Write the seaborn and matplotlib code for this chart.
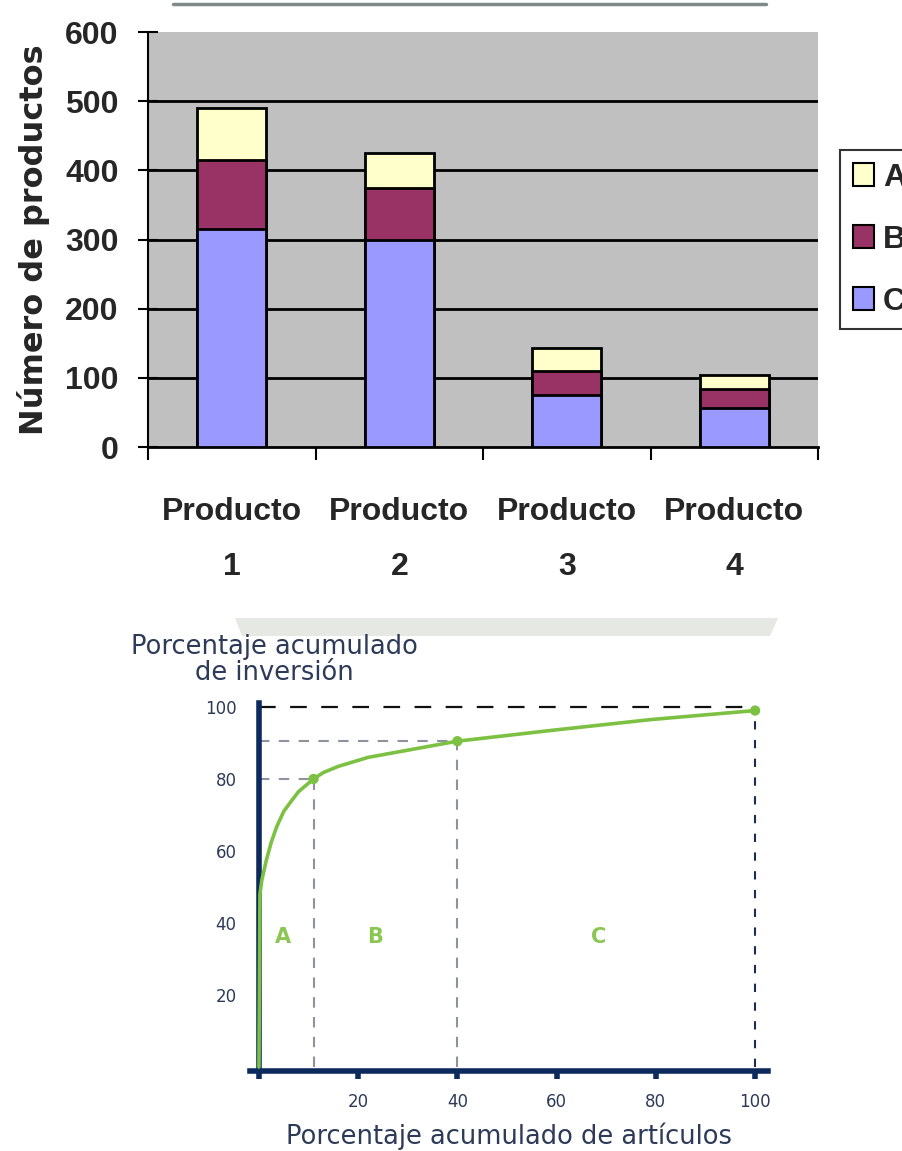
import numpy as np
import pandas as pd
import matplotlib
matplotlib.use("Agg")
import matplotlib.pyplot as plt
from matplotlib.patches import Patch, Polygon
from matplotlib.lines import Line2D
from matplotlib.font_manager import FontProperties
import seaborn as sns

# ---- data: stacked bars (número de productos por clase) ----
productos = ["Producto\n1", "Producto\n2", "Producto\n3", "Producto\n4"]
clase_c = [315, 300, 75, 57]
clase_b = [100, 75, 35, 27]
clase_a = [75, 50, 33, 20]
clases = ["A", "B", "C"]
y_ticks_bar = [0, 100, 200, 300, 400, 500, 600]

# ---- data: curva ABC (porcentaje acumulado) ----
art_pct = [0, 0.2, 0.6, 1.5, 2.5, 3.6, 5, 6.6, 8, 11, 13, 16, 22, 30, 40, 59, 79, 100]
inv_pct = [0, 48, 52, 57.5, 62.5, 66.8, 71, 74, 76.5, 80, 81.8, 83.5, 86, 88, 90.5, 93.5, 96.5, 99]
corte_x = [11, 40, 100]
corte_y = [80, 90.5, 99]
zona_txt = ["A", "B", "C"]
zona_x = [4.8, 23.5, 68.5]
zona_y = [36, 36, 36]
x_ticks_abc = [0, 20, 40, 60, 80, 100]
y_ticks_abc = [20, 40, 60, 80, 100]

sns.set_theme(style="white")
plt.rcParams["font.family"] = ["DejaVu Sans"]

W, H = 903, 1151
fig = plt.figure(figsize=(W / 100, H / 100), dpi=100)
fig.patch.set_facecolor("white")

# faint decorative strip at the very top and watermark band between the charts
fig.add_artist(Line2D([173 / W, 766 / W], [1 - 4 / H, 1 - 4 / H],
                      color="#7f8a88", lw=2.5))
band = Polygon([[235 / W, 1 - 618 / H], [778 / W, 1 - 618 / H],
                [770 / W, 1 - 636 / H], [242 / W, 1 - 636 / H]],
               closed=True, transform=fig.transFigure,
               facecolor="#e6e8e4", edgecolor="none", zorder=0)
fig.add_artist(band)

bold_fam = ["Liberation Sans", "DejaVu Sans"]

# ================= top chart: stacked bars =================
ax1 = fig.add_axes([148 / W, 1 - 447 / H, 670 / W, 415 / H])
ax1.set_facecolor("#c0c0c0")

df = pd.DataFrame({"producto": productos, "C": clase_c, "B": clase_b, "A": clase_a})
df["CB"] = df["C"] + df["B"]
df["CBA"] = df["CB"] + df["A"]

col_a, col_b, col_c = "#ffffcc", "#993366", "#9999ff"
for col, fill in [("CBA", col_a), ("CB", col_b), ("C", col_c)]:
    sns.barplot(data=df, x="producto", y=col, color=fill, saturation=1,
                width=0.41, edgecolor="black", linewidth=2, errorbar=None,
                ax=ax1, zorder=3)

ax1.set_xlim(-0.5, 3.5)
ax1.set_ylim(0, 600)
ax1.set_yticks(y_ticks_bar)
for v in y_ticks_bar[1:-1]:
    ax1.axhline(v, color="black", lw=2, zorder=1)

ax1.set_xlabel("")
ax1.set_ylabel("Número de productos", fontsize=23, fontweight="bold",
               family=["DejaVu Sans"], labelpad=11)
for sp in ["top", "right"]:
    ax1.spines[sp].set_visible(False)
ax1.spines["left"].set_color("black")
ax1.spines["left"].set_linewidth(1.5)
ax1.spines["bottom"].set_color("black")
ax1.spines["bottom"].set_linewidth(2)

ax1.tick_params(axis="y", direction="inout", length=14, width=1.5,
                color="black", pad=14, left=True)
ax1.tick_params(axis="x", which="major", length=0, pad=36)
ax1.set_xticks([-0.5, 0.5, 1.5, 2.5, 3.5], minor=True)
ax1.tick_params(axis="x", which="minor", direction="out", length=9,
                width=1.5, color="black", bottom=True)
for lab in ax1.get_yticklabels():
    lab.set_fontproperties(FontProperties(family=bold_fam, weight="bold", size=23))
for lab in ax1.get_xticklabels():
    lab.set_fontproperties(FontProperties(family=bold_fam, weight="bold", size=23))
    lab.set_linespacing(2.1)

handles = [Patch(facecolor=c, edgecolor="black", linewidth=1.5)
           for c in (col_a, col_b, col_c)]
leg = ax1.legend(handles, clases, loc="upper left",
                 bbox_to_anchor=(840 / W, 1 - 150 / H), bbox_transform=fig.transFigure,
                 borderaxespad=0, frameon=True, fancybox=False,
                 prop=FontProperties(family=bold_fam, weight="bold", size=23),
                 handlelength=0.65, handleheight=0.7, handletextpad=0.3,
                 labelspacing=1.0, borderpad=0.4)
leg.get_frame().set_edgecolor("black")
leg.get_frame().set_linewidth(1.5)
leg.get_frame().set_facecolor("white")

# ================= bottom chart: curva ABC =================
navy = "#0c2a5c"
txt_col = "#2e3b58"
green = "#7dc143"
green_txt = "#8cc652"

ax2 = fig.add_axes([250 / W, 1 - 1071 / H, 518 / W, 368 / H])
ax2.set_facecolor("white")
ax2.set_xlim(-1.8, 102.6)
ax2.set_ylim(-1.1, 101.1)

# guide lines from each cut point to the axes
gray_dash = dict(color="#8e929c", lw=1.5, linestyle=(0, (5, 4.5)), zorder=2)
for cx, cy in zip(corte_x[:2], corte_y[:2]):
    ax2.plot([0, cx], [cy, cy], **gray_dash)
    ax2.plot([cx, cx], [0, cy], **gray_dash)
ax2.plot([0, corte_x[2]], [y_ticks_abc[-1], y_ticks_abc[-1]], color="#111111",
         lw=1.6, linestyle=(0, (7.5, 6.5)), zorder=2)
ax2.plot([corte_x[2], corte_x[2]], [0, y_ticks_abc[-1]], color="#1d2d50",
         lw=1.5, linestyle=(0, (4, 5)), zorder=2)

curve = pd.DataFrame({"articulos": art_pct, "inversion": inv_pct})
sns.lineplot(data=curve, x="articulos", y="inversion", sort=False,
             color=green, lw=2.6, ax=ax2, zorder=4)
sns.scatterplot(x=corte_x, y=corte_y, color=green, s=55, edgecolor="none",
                ax=ax2, zorder=5)

for t, zx, zy in zip(zona_txt, zona_x, zona_y):
    ax2.text(zx, zy, t, color=green_txt, fontsize=15, fontweight="bold",
             ha="center", va="center")

for sp in ["top", "right"]:
    ax2.spines[sp].set_visible(False)
ax2.spines["left"].set_position(("data", 0))
ax2.spines["left"].set_color(navy)
ax2.spines["left"].set_linewidth(4)
ax2.spines["bottom"].set_color(navy)
ax2.spines["bottom"].set_linewidth(4)
ax2.spines["left"].set_zorder(3)

ax2.set_xticks(x_ticks_abc)
ax2.set_xticklabels([""] + [str(v) for v in x_ticks_abc[1:]])
ax2.set_yticks(y_ticks_abc)
ax2.set_yticklabels([str(v) for v in y_ticks_abc])
ax2.tick_params(axis="x", direction="out", length=6, width=4, color=navy,
                labelsize=12, labelcolor=txt_col, pad=10, bottom=True)
ax2.tick_params(axis="y", length=0, labelsize=12, labelcolor=txt_col, pad=16)
ax2.set_xlabel("Porcentaje acumulado de artículos", fontsize=18.5,
               color=txt_col, labelpad=8)
ax2.set_ylabel("")

fig.text(274 / W, 1 - 660 / H, "Porcentaje acumulado\nde inversión", fontsize=18.5,
         color=txt_col, ha="center", va="center", multialignment="center",
         linespacing=0.98)

fig.savefig("out.png", dpi=100, facecolor="white")
